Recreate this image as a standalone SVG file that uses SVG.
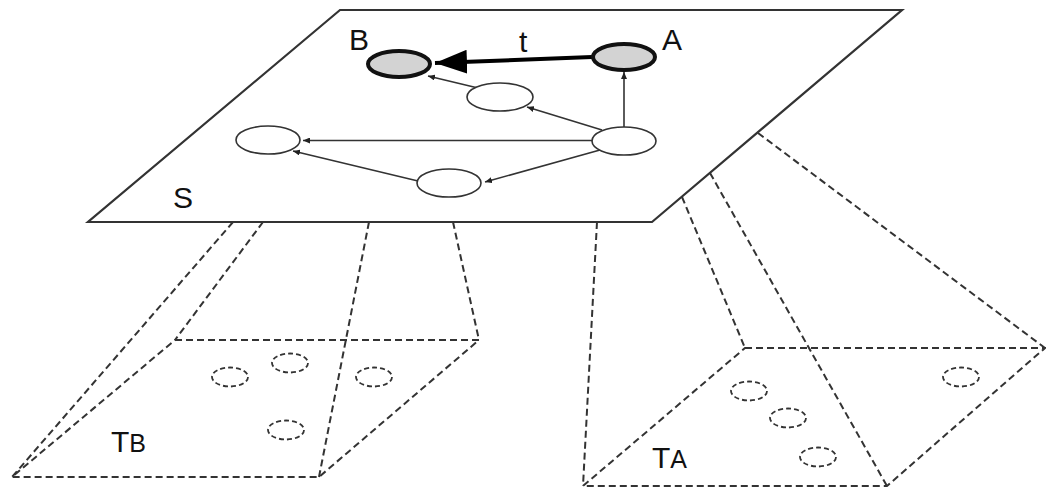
<svg xmlns="http://www.w3.org/2000/svg" width="1046" height="489" viewBox="0 0 1046 489">
<style>
.dash{fill:none;stroke:#333;stroke-width:2;stroke-dasharray:7 4}
.dot{fill:none;stroke:#333;stroke-width:1.8;stroke-dasharray:5 3}
.plane{fill:#fff;stroke:#333;stroke-width:2.2;stroke-linejoin:miter}
.node{fill:#fff;stroke:#333;stroke-width:1.6}
.key{fill:#d3d3d3;stroke:#111;stroke-width:4}
.edge{fill:none;stroke:#333;stroke-width:1.6}
.thick{fill:none;stroke:#000;stroke-width:4}
.lbl{font-family:"Liberation Sans",Arial,sans-serif;font-size:30px;fill:#111}
</style>
<defs>
<marker id="sm" markerUnits="userSpaceOnUse" markerWidth="8" markerHeight="6" refX="7" refY="3" orient="auto"><path d="M0,0 L7,3 L0,6 z" fill="#222"/></marker>
<marker id="big" markerUnits="userSpaceOnUse" markerWidth="33" markerHeight="25" refX="32" refY="12" orient="auto"><path d="M0,0 L32,12 L0,24 z" fill="#000"/></marker>
</defs>
<g id="TB">
<line class="dash" x1="233" y1="222" x2="12" y2="477"/>
<line class="dash" x1="263" y1="222" x2="175" y2="340"/>
<line class="dash" x1="369" y1="222" x2="319" y2="477"/>
<line class="dash" x1="453" y1="222" x2="479" y2="340"/>
<polygon class="dash" points="175,340 479,340 319,477 12,477"/>
<ellipse class="dot" cx="230" cy="377" rx="18" ry="9.5"/>
<ellipse class="dot" cx="290" cy="363" rx="18" ry="9.5"/>
<ellipse class="dot" cx="374" cy="377" rx="18" ry="9.5"/>
<ellipse class="dot" cx="286" cy="430" rx="18" ry="9.5"/>
<text class="lbl" x="111" y="452">T<tspan font-size="25">B</tspan></text>
</g>
<g id="TA">
<line class="dash" x1="597" y1="222" x2="583" y2="486"/>
<line class="dash" x1="682" y1="197" x2="745" y2="348"/>
<line class="dash" x1="710" y1="173" x2="887" y2="486"/>
<line class="dash" x1="758" y1="133" x2="1045" y2="348"/>
<polygon class="dash" points="745,348 1045,348 887,486 583,486"/>
<ellipse class="dot" cx="749" cy="391" rx="18" ry="9.5"/>
<ellipse class="dot" cx="788" cy="418" rx="18" ry="9.5"/>
<ellipse class="dot" cx="818" cy="457" rx="18" ry="9.5"/>
<ellipse class="dot" cx="961" cy="377" rx="18" ry="9.5"/>
<text class="lbl" x="652" y="468">T<tspan font-size="25">A</tspan></text>
</g>
<g id="S">
<polygon class="plane" points="340,10 902,10 652,222 88,222"/>
<text class="lbl" x="173" y="208">S</text>
</g>
<g id="connectors">
<line class="edge" x1="624" y1="127" x2="624" y2="72" marker-end="url(#sm)"/>
<line class="edge" x1="602" y1="130" x2="527" y2="107" marker-end="url(#sm)"/>
<line class="edge" x1="478" y1="88" x2="428" y2="76" marker-end="url(#sm)"/>
<line class="edge" x1="592" y1="140.5" x2="303" y2="140.5" marker-end="url(#sm)"/>
<line class="edge" x1="600" y1="150" x2="485" y2="182" marker-end="url(#sm)"/>
<line class="edge" x1="418" y1="181" x2="293" y2="151" marker-end="url(#sm)"/>
<line class="thick" x1="592" y1="57" x2="435" y2="63" marker-end="url(#big)"/>
<text class="lbl" x="519" y="52">t</text>
</g>
<g id="nodeA">
<ellipse class="key" cx="624" cy="57" rx="31" ry="13"/>
<text class="lbl" x="662" y="50">A</text>
</g>
<g id="nodeB">
<ellipse class="key" cx="399" cy="64" rx="31" ry="13"/>
<text class="lbl" x="349" y="50">B</text>
</g>
<g id="n1"><ellipse class="node" cx="500" cy="97" rx="33" ry="14"/></g>
<g id="n2"><ellipse class="node" cx="624" cy="141" rx="32" ry="14"/></g>
<g id="n3"><ellipse class="node" cx="268" cy="140" rx="32" ry="14"/></g>
<g id="n4"><ellipse class="node" cx="449" cy="183" rx="32" ry="14"/></g>
</svg>
